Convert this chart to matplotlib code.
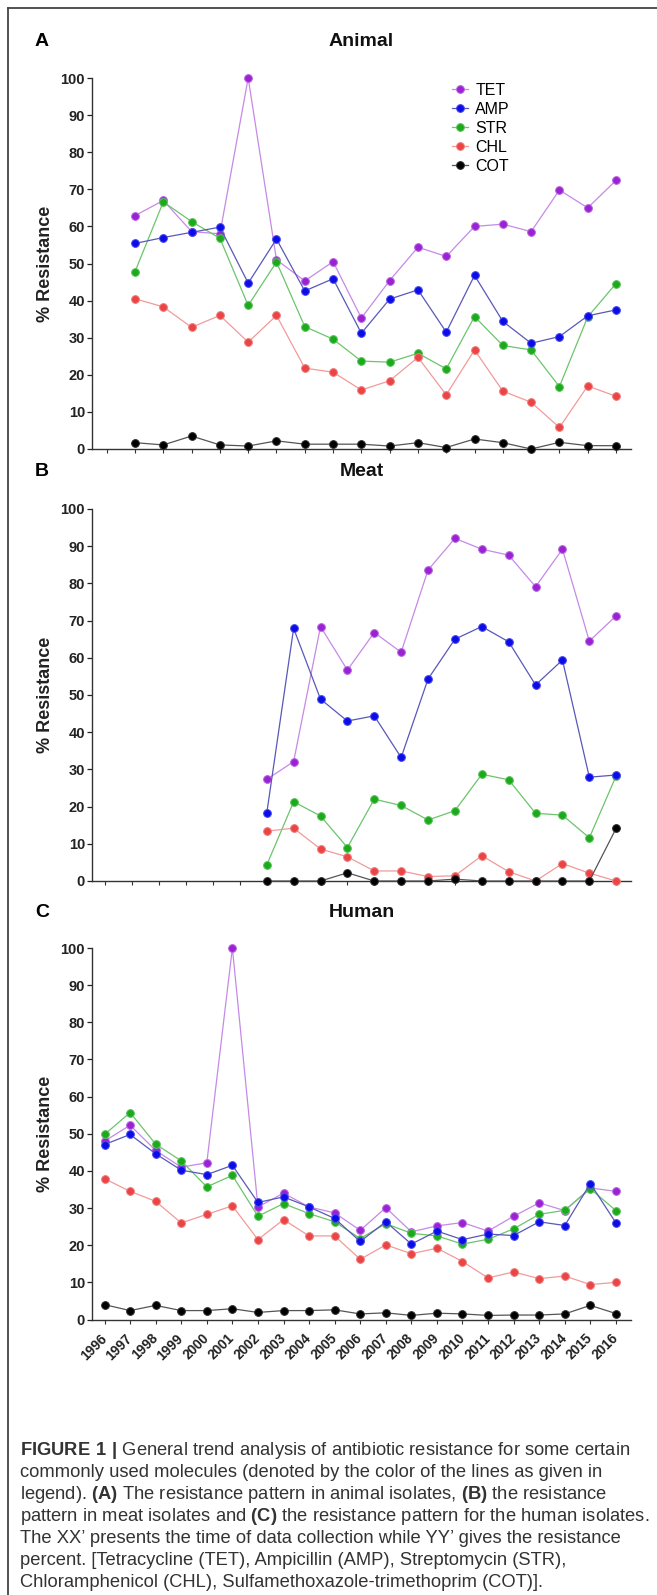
import matplotlib
matplotlib.use("Agg")
import matplotlib.pyplot as plt
from matplotlib.lines import Line2D

plt.rcParams['font.family'] = ['Liberation Sans', 'DejaVu Sans']
plt.rcParams['mathtext.fontset'] = 'custom'
plt.rcParams['mathtext.rm'] = 'Liberation Sans'
plt.rcParams['mathtext.bf'] = 'Liberation Sans:bold'

drugs = ['TET', 'AMP', 'STR', 'CHL', 'COT']

# A - animal isolates
years_animal = list(range(1999, 2017))
animal_tet = [62.9, 67.0, 58.6, 58.0, 100.0, 51.0, 45.3, 50.5, 35.3, 45.4, 54.4, 51.9, 60.0, 60.6, 58.6, 69.8, 65.0, 72.4]
animal_amp = [55.4, 57.0, 58.4, 59.8, 44.7, 56.6, 42.6, 45.9, 31.2, 40.4, 42.9, 31.5, 46.8, 34.4, 28.5, 30.3, 35.9, 37.5]
animal_str = [47.8, 66.6, 61.3, 56.8, 38.7, 50.4, 33.0, 29.6, 23.7, 23.4, 25.8, 21.6, 35.7, 27.9, 26.7, 16.8, 35.6, 44.6]
animal_chl = [40.5, 38.3, 32.8, 36.0, 28.8, 36.0, 21.8, 20.7, 15.9, 18.4, 24.7, 14.6, 26.7, 15.6, 12.6, 5.8, 17.0, 14.2]
animal_cot = [1.7, 1.1, 3.5, 1.1, 0.8, 2.2, 1.3, 1.3, 1.3, 0.8, 1.7, 0.4, 2.7, 1.7, 0.0, 1.8, 0.9, 0.9]

# B - meat isolates
years_meat = list(range(2003, 2017))
meat_tet = [27.3, 32.1, 68.4, 56.7, 66.8, 61.5, 83.6, 92.1, 89.2, 87.6, 79.1, 89.2, 64.5, 71.3]
meat_amp = [18.2, 67.9, 48.9, 43.0, 44.4, 33.2, 54.3, 65.0, 68.4, 64.3, 52.7, 59.4, 27.9, 28.5]
meat_str = [4.3, 21.3, 17.5, 9.0, 22.0, 20.3, 16.4, 18.9, 28.7, 27.2, 18.2, 17.7, 11.6, 28.3]
meat_chl = [13.4, 14.2, 8.6, 6.5, 2.7, 2.7, 1.2, 1.4, 6.8, 2.5, 0.0, 4.7, 2.1, 0.0]
meat_cot = [0.0, 0.0, 0.0, 2.2, 0.0, 0.0, 0.0, 0.5, 0.0, 0.0, 0.0, 0.0, 0.0, 14.2]

# C - human isolates
years_human = list(range(1996, 2017))
human_tet = [48.0, 52.3, 45.5, 41.0, 42.2, 100.0, 30.3, 34.0, 30.3, 28.7, 24.0, 30.1, 23.6, 25.2, 26.1, 23.8, 27.8, 31.4, 29.3, 35.4, 34.5]
human_amp = [47.1, 49.8, 44.6, 40.2, 39.0, 41.5, 31.5, 33.0, 30.3, 27.2, 21.0, 26.3, 20.3, 23.8, 21.5, 23.0, 22.6, 26.3, 25.3, 36.6, 26.0]
human_str = [49.8, 55.7, 47.2, 42.7, 35.7, 38.8, 27.8, 31.2, 28.5, 26.3, 21.8, 25.8, 23.2, 22.5, 20.3, 21.6, 24.4, 28.3, 29.4, 35.2, 29.3]
human_chl = [37.9, 34.5, 31.8, 26.0, 28.3, 30.6, 21.5, 26.9, 22.5, 22.5, 16.2, 20.1, 17.7, 19.2, 15.6, 11.2, 12.8, 11.0, 11.7, 9.4, 10.0]
human_cot = [4.0, 2.4, 3.8, 2.4, 2.4, 2.9, 1.9, 2.4, 2.4, 2.6, 1.5, 1.8, 1.1, 1.7, 1.5, 1.1, 1.2, 1.2, 1.5, 3.8, 1.6]

caption = [
    r"$\mathbf{FIGURE\ 1\ |}$ General trend analysis of antibiotic resistance for some certain",
    "commonly used molecules (denoted by the color of the lines as given in",
    r"legend). $\mathbf{(A)}$ The resistance pattern in animal isolates, $\mathbf{(B)}$ the resistance",
    r"pattern in meat isolates and $\mathbf{(C)}$ the resistance pattern for the human isolates.",
    "The XX\u2019 presents the time of data collection while YY\u2019 gives the resistance",
    "percent. [Tetracycline (TET), Ampicillin (AMP), Streptomycin (STR),",
    "Chloramphenicol (CHL), Sulfamethoxazole-trimethoprim (COT)].",
]

marker_col = {'TET': '#9b22d4', 'AMP': '#0c0ce6', 'STR': '#1caa1c', 'CHL': '#ea4444', 'COT': '#000000'}
edge_col = {'TET': '#b868e0', 'AMP': '#4a4af0', 'STR': '#5cc45c', 'CHL': '#f07c7c', 'COT': '#303030'}
line_col = {'TET': '#c58ae6', 'AMP': '#5858b8', 'STR': '#6cc46c', 'CHL': '#f29a9a', 'COT': '#555555'}
draw_order = ['TET', 'STR', 'AMP', 'CHL', 'COT']

W, H = 657, 1595
fig = plt.figure(figsize=(W / 100, H / 100), dpi=100)


def fx(px):
    return px / W


def fy(py):
    return 1 - py / H


panels = [
    ('A', 'Animal', years_animal, [animal_tet, animal_amp, animal_str, animal_chl, animal_cot],
     (1997.48, 2016.53), range(1998, 2017), 78, 449, 41),
    ('B', 'Meat', years_meat, [meat_tet, meat_amp, meat_str, meat_chl, meat_cot],
     (1996.5, 2016.55), range(1997, 2017), 509, 881, 471),
    ('C', 'Human', years_human, [human_tet, human_amp, human_str, human_chl, human_cot],
     (1995.51, 2016.59), range(1996, 2017), 948, 1319.5, 912),
]

ax_left, ax_right = 92, 631
for letter, title, yrs, series, xl, xt, top, bot, ty in panels:
    ax = fig.add_axes([fx(ax_left), fy(bot), (ax_right - ax_left) / W, (bot - top) / H])
    data = dict(zip(drugs, series))
    for i, d in enumerate(draw_order):
        ax.plot(yrs, data[d], color=line_col[d], lw=0.9, marker='o', ms=5.6,
                mfc=marker_col[d], mec=edge_col[d], mew=0.7, clip_on=False, zorder=3 + i)
    ax.set_xlim(*xl)
    ax.set_ylim(0, 100)
    for s in ['top', 'right']:
        ax.spines[s].set_visible(False)
    for s in ['left', 'bottom']:
        ax.spines[s].set_color('#333333')
        ax.spines[s].set_linewidth(1.0)
    ax.set_yticks(range(0, 101, 10))
    ax.set_xticks(list(xt))
    ax.tick_params(axis='y', length=3.5, width=0.9, pad=1.5, labelsize=10.5, colors='#222222')
    ax.tick_params(axis='x', length=3, width=0.8, colors='#333333')
    plt.setp(ax.get_yticklabels(), fontweight='bold', color='#222222')
    if letter == 'C':
        ax.set_xticklabels([str(y) for y in xt], rotation=45, ha='right', va='center',
                           rotation_mode='anchor', fontweight='bold', fontsize=9.8, color='#222222')
        ax.tick_params(axis='x', pad=9)
    else:
        ax.set_xticklabels([])

    fig.text(fx(35), fy(ty), letter, ha='left', va='center', fontsize=14, fontweight='bold')
    fig.text(fx((ax_left + ax_right) / 2), fy(ty), title, ha='center', va='center',
             fontsize=14, fontweight='bold', color='#111111')
    fig.text(fx(45), fy((top + bot) / 2), '% Resistance', rotation=90, ha='center', va='center',
             fontsize=13, fontweight='bold', color='#222222')

    if letter == 'A':
        handles = [Line2D([], [], color=line_col[d], lw=0.9, marker='o', ms=5.6,
                          mfc=marker_col[d], mec=edge_col[d], mew=0.7) for d in drugs]
        ax.legend(handles, drugs, loc='upper left', bbox_to_anchor=(fx(452), fy(83)),
                  bbox_transform=fig.transFigure, frameon=False, fontsize=11.5,
                  handlelength=1.0, handletextpad=0.45, labelspacing=0.25,
                  borderpad=0, borderaxespad=0)

# caption
for i, line in enumerate(caption):
    fig.text(fx(20), fy(1455 + i * 22), line, ha='left', va='baseline',
             fontsize=13.2, color='#333333')

# figure frame (left and top)
fig.add_artist(Line2D([fx(8), fx(8)], [fy(8), 0], transform=fig.transFigure, color='#444444', lw=1.3))
fig.add_artist(Line2D([fx(8), 1], [fy(8), fy(8)], transform=fig.transFigure, color='#444444', lw=1.3))

fig.savefig('out.png', dpi=100)
